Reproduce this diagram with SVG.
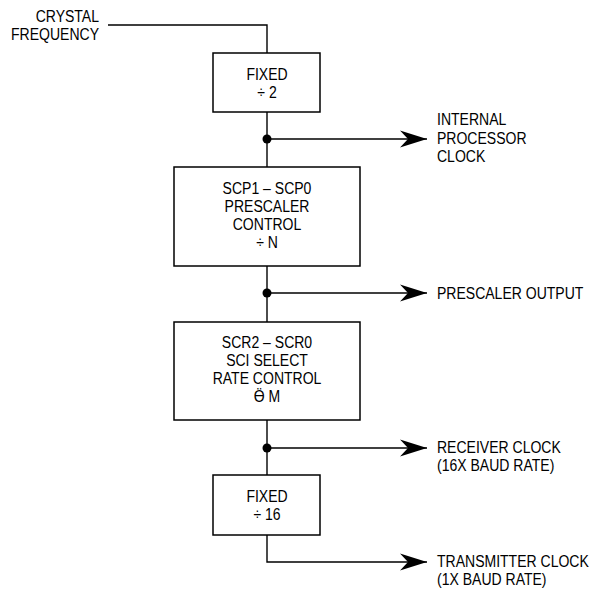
<svg xmlns="http://www.w3.org/2000/svg" width="592" height="592" viewBox="0 0 592 592">
<defs>
<style>
text{font-family:"Liberation Sans",Arial,sans-serif;font-size:16.5px;fill:#000}
.c{text-anchor:middle}
.r{text-anchor:end}
.box{fill:#fff;stroke:#000;stroke-width:1.5}
.w{fill:none;stroke:#000;stroke-width:1.4}
.dot{fill:#000}
</style>
<marker id="ah" markerUnits="userSpaceOnUse" markerWidth="28" markerHeight="18" refX="27" refY="8.5" orient="auto" viewBox="0 0 28 17">
<path d="M0,0 L27,8.5 L0,17 L8,8.5 Z" fill="#000"/>
</marker>
</defs>
<rect width="592" height="592" fill="#fff"/>
<g id="connectors">
<path class="w" d="M108,25 H267 V53"/>
<path class="w" d="M267,112 V167"/>
<path class="w" d="M267,266 V322"/>
<path class="w" d="M267,420 V475"/>
<path class="w" d="M267,139 H427" marker-end="url(#ah)"/>
<path class="w" d="M267,293 H427" marker-end="url(#ah)"/>
<path class="w" d="M267,448 H427" marker-end="url(#ah)"/>
<path class="w" d="M267,535 V562 H427" marker-end="url(#ah)"/>
<circle class="dot" cx="267" cy="139" r="4.5"/>
<circle class="dot" cx="267" cy="293" r="4.5"/>
<circle class="dot" cx="267" cy="448" r="4.5"/>
</g>
<g id="crystal">
<text class="r" transform="translate(99,21.5) scale(0.85,1)">CRYSTAL</text>
<text class="r" transform="translate(99,40) scale(0.85,1)">FREQUENCY</text>
</g>
<g id="fixed2">
<rect class="box" x="213" y="53" width="107" height="59"/>
<text class="c" transform="translate(267,80) scale(0.85,1)">FIXED</text>
<text class="c" transform="translate(267,98) scale(0.85,1)">÷ 2</text>
</g>
<g id="prescaler">
<rect class="box" x="174" y="167" width="186" height="99"/>
<text class="c" transform="translate(267,193.5) scale(0.85,1)">SCP1 – SCP0</text>
<text class="c" transform="translate(267,212) scale(0.85,1)">PRESCALER</text>
<text class="c" transform="translate(267,230) scale(0.85,1)">CONTROL</text>
<text class="c" transform="translate(267,248) scale(0.85,1)">÷ N</text>
</g>
<g id="sci">
<rect class="box" x="174" y="322" width="186" height="98"/>
<text class="c" transform="translate(267,347.5) scale(0.85,1)">SCR2 – SCR0</text>
<text class="c" transform="translate(267,365.5) scale(0.85,1)">SCI SELECT</text>
<text class="c" transform="translate(267,383.5) scale(0.85,1)">RATE CONTROL</text>
<text class="c" transform="translate(267,402) scale(0.85,1)">Ӫ M</text>
</g>
<g id="fixed16">
<rect class="box" x="213" y="475" width="107" height="60"/>
<text class="c" transform="translate(267,502) scale(0.85,1)">FIXED</text>
<text class="c" transform="translate(267,520) scale(0.85,1)">÷ 16</text>
</g>
<g id="labels">
<text transform="translate(437,125) scale(0.85,1)">INTERNAL</text>
<text transform="translate(437,143.5) scale(0.85,1)">PROCESSOR</text>
<text transform="translate(437,162) scale(0.85,1)">CLOCK</text>
<text transform="translate(437,299) scale(0.85,1)">PRESCALER OUTPUT</text>
<text transform="translate(437,453) scale(0.85,1)">RECEIVER CLOCK</text>
<text transform="translate(437,471) scale(0.85,1)">(16X BAUD RATE)</text>
<text transform="translate(437,567) scale(0.85,1)">TRANSMITTER CLOCK</text>
<text transform="translate(437,585) scale(0.85,1)">(1X BAUD RATE)</text>
</g>
</svg>
